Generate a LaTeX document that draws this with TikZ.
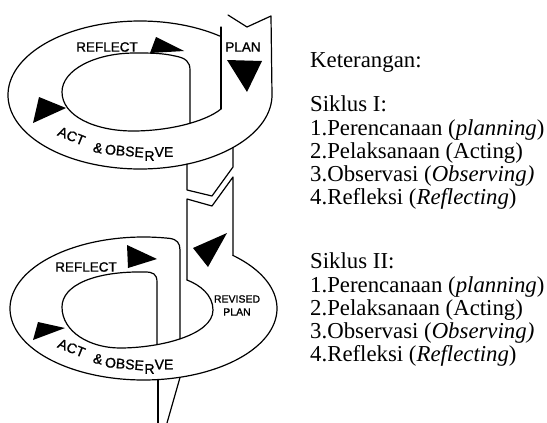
\documentclass[tikz,border=0pt]{standalone}
\usepackage{fontspec}
\setmainfont{Liberation Serif}
\newfontfamily\labelfont[FakeBold=1.2]{Liberation Sans}
\begin{document}
\begin{tikzpicture}[x=1pt,y=-1pt,
  edge/.style={draw=black, line width=1.2pt, line join=round, line cap=round},
  tri/.style={fill=black},
  lbl/.style={font=\labelfont\fontsize{13.5}{14}\selectfont, inner sep=0pt},
  lblbig/.style={font=\labelfont\fontsize{14}{15}\selectfont, inner sep=0pt},
  lblsmall/.style={font=\labelfont\fontsize{10.5}{11}\selectfont, inner sep=0pt},
  legend/.style={font=\fontsize{22.8}{23}\selectfont, anchor=base west, inner sep=0pt}]
\useasboundingbox (0,0) rectangle (547,423);

% ---------- upper spiral ----------
% outer contour with PLAN strip
\draw[edge] (228,15) -- (247,27) -- (271,16) -- (272,95)
  -- plot[domain=-360:-52.7, samples=160] ({140+132*cos(\x)},{95+74*sin(\x)});
% PLAN strip left edge
\draw[edge] (221,27) -- (221,109);
% inner hole
\draw[edge] (190,123.6) -- (190,70) .. controls (190,62) and (186,58) .. (175,56)
  .. controls (162,53) and (150,53) .. (135,53)
  .. controls (95,53) and (62,70) .. (62,92)
  .. controls (62,116) and (95,131) .. (133,131)
  .. controls (168,131) and (205,122) .. (221,109);
% strip below upper spiral (torn end)
\draw[edge] (187,164) -- (187,190) -- (212,196) -- (233,167) -- (233,147.5);

% ---------- connecting strip ----------
\draw[edge] (187,280) -- (187,199) -- (212,206) -- (233,177) -- (233,255.4);

% ---------- lower spiral ----------
\draw[edge] plot[domain=-47.9:281.4, samples=200] ({143.5+133.5*cos(\x)},{308.5+71.5*sin(\x)})
  .. controls (177,239.5) and (180,243) .. (180,250) -- (180,338.5);
% inner hole
\draw[edge] (157,344.5) -- (157,282) .. controls (157,274) and (153,272) .. (145,272)
  .. controls (95,271) and (62,285) .. (62,307)
  .. controls (62,332) and (90,348) .. (120,348)
  .. controls (160,348) and (213,335) .. (213,310)
  .. controls (213,295) and (200,285) .. (187,280);
% tail
\draw[edge] (158,380) -- (158,423);
\draw[edge] (180,377.5) -- (167,423);

% ---------- arrow heads ----------
\fill[tri] (156,37) -- (184,51) -- (150,53) -- cycle;
\fill[tri] (227,60) -- (262,61) -- (247,92) -- cycle;
\fill[tri] (39,97) -- (66,108) -- (33,123) -- cycle;
\fill[tri] (193,248) -- (227,233) -- (208,267) -- cycle;
\fill[tri] (127,245) -- (157,259) -- (128,268) -- cycle;
\fill[tri] (38,322) -- (65,328) -- (33,340) -- cycle;

% ---------- labels ----------
\node[lbl] (r1) at (107,47) {REFLECT};
\node[lbl] (p1) at (243,47) {PLAN};
\node[lblbig, rotate=-22] (ac1) at (71.5,136) {ACT};
\node[lblbig, rotate=-12] (am1) at (98,148) {\&};
\node[lblbig, rotate=-5] (ob1) at (124.5,151) {OBSE};
\node[lblbig] (rr1) at (149.5,156) {R};
\node[lblbig] (ve1) at (164,152) {VE};

\node[lbl] (r2) at (86,267) {REFLECT};
\node[lblsmall] (rv) at (237,299) {REVISED};
\node[lblsmall] (p2) at (237,312) {PLAN};
\node[lblbig, rotate=-22] (ac2) at (71.5,348) {ACT};
\node[lblbig, rotate=-12] (am2) at (98,359) {\&};
\node[lblbig, rotate=-5] (ob2) at (124.5,364) {OBSE};
\node[lblbig] (rr2) at (149.5,369) {R};
\node[lblbig] (ve2) at (164,364.5) {VE};

% ---------- legend ----------
\node[legend] (k) at (310,67.5) {Keterangan:};
\node[legend] (s1) at (310,111) {Siklus I:};
\node[legend] (a1) at (310,135) {1.Perencanaan (\textit{planning})};
\node[legend] (a2) at (310,158) {2.Pelaksanaan (Acting)};
\node[legend] (a3) at (310,181) {3.Observasi (\textit{Observing)}};
\node[legend] (a4) at (310,204) {4.Refleksi (\textit{Reflecting})};
\node[legend] (s2) at (310,268) {Siklus II:};
\node[legend] (b1) at (310,292) {1.Perencanaan (\textit{planning})};
\node[legend] (b2) at (310,315) {2.Pelaksanaan (Acting)};
\node[legend] (b3) at (310,338) {3.Observasi (\textit{Observing)}};
\node[legend] (b4) at (310,361) {4.Refleksi (\textit{Reflecting})};
\end{tikzpicture}
\end{document}
